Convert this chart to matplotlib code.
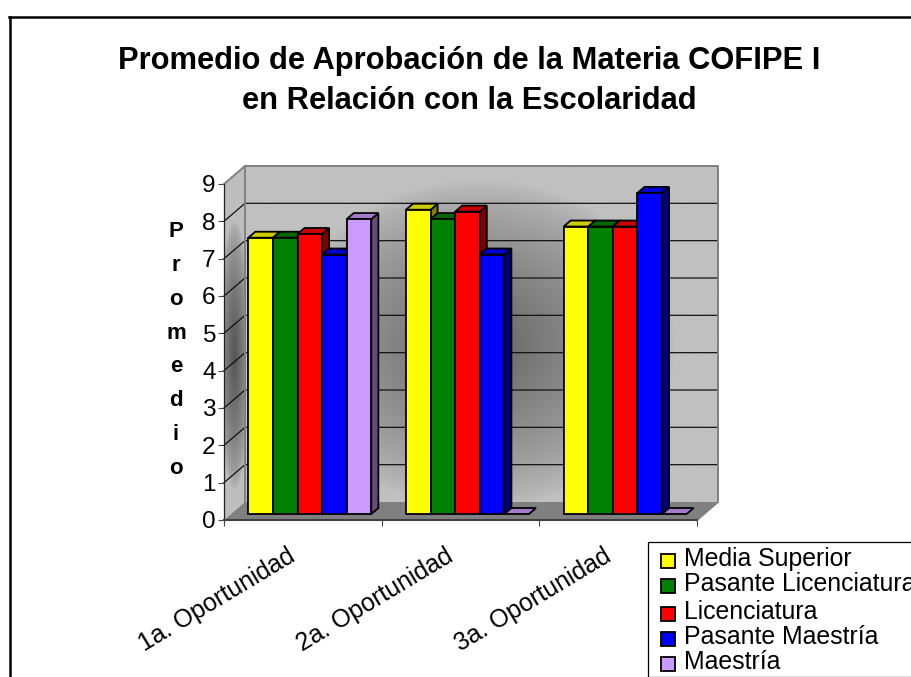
import numpy as np
import matplotlib
matplotlib.use('Agg')
import matplotlib.pyplot as plt
from matplotlib.patches import Polygon, Rectangle
from matplotlib.lines import Line2D

title = 'Promedio de Aprobación de la Materia COFIPE I\nen Relación con la Escolaridad'
categories = ['1a. Oportunidad', '2a. Oportunidad', '3a. Oportunidad']
series_names = ['Media Superior', 'Pasante Licenciatura', 'Licenciatura', 'Pasante Maestría', 'Maestría']
media_superior = [7.4, 8.15, 7.7]
pasante_lic = [7.4, 7.9, 7.7]
licenciatura = [7.5, 8.1, 7.7]
pasante_maestria = [6.95, 6.95, 8.6]
maestria = [7.9, 0, 0]
y_ticks = list(range(10))

series_values = [media_superior, pasante_lic, licenciatura, pasante_maestria, maestria]
front_colors = ['#ffff00', '#008000', '#ff0000', '#0000ff', '#cc99ff']
top_colors = ['#cccc00', '#006600', '#cc0000', '#0000cc', '#a37acc']
side_colors = ['#808000', '#004000', '#800000', '#000080', '#664d80']

W, H = 912, 677
plt.rcParams['font.family'] = ['Liberation Sans', 'DejaVu Sans']

fig = plt.figure(figsize=(W / 100, H / 100), dpi=100, facecolor='white')


def fx(px):
    return px / W


def fy(py):
    return 1 - py / H


# front plane of the plot box
ax = fig.add_axes([fx(224), fy(520), (697 - 224) / W, (520 - 184) / H])
ax.set_xlim(0, 3)
ax.set_ylim(0, 9)
ax.patch.set_visible(False)

# depth of the box in data units
dx = 21 / (473 / 3)
dy = 18 / (336 / 9)

# back wall
gx, gy = np.meshgrid(np.linspace(dx, 3 + dx, 300), np.linspace(dy, 9 + dy, 300))
t = np.sqrt(((gx - 1.62) / 1.25) ** 2 + ((gy - 4.7) / 4.4) ** 2)
wall = 192 - 92 * np.clip(1 - t, 0, 1) ** 0.75
ax.imshow(wall, extent=[dx, 3 + dx, dy, 9 + dy], origin='lower', cmap='gray', vmin=0, vmax=255,
          aspect='auto', clip_on=False, zorder=1, interpolation='bilinear')

# left wall
gx, gy = np.meshgrid(np.linspace(0, dx, 60), np.linspace(0, 9 + dy, 300))
t = np.sqrt(((gx - dx * 0.5) / (dx * 0.75)) ** 2 + ((gy - 4.4) / 3.6) ** 2)
side = 190 - 105 * np.clip(1 - t, 0, 1) ** 0.6
left_shape = Polygon([(0, 0), (dx, dy), (dx, 9 + dy), (0, 9)], closed=True, transform=ax.transData)
im = ax.imshow(side, extent=[0, dx, 0, 9 + dy], origin='lower', cmap='gray', vmin=0, vmax=255,
               aspect='auto', zorder=1, interpolation='bilinear')
im.set_clip_box(fig.bbox)
im.set_clip_path(left_shape)

ax.set_xlim(0, 3)
ax.set_ylim(0, 9)

# floor
ax.add_patch(Polygon([(0, 0), (3, 0), (3 + dx, dy), (dx, dy)], closed=True, facecolor='#808080',
                     edgecolor='none', clip_on=False, zorder=2))

# grid lines, back wall and left wall
for v in y_ticks[1:-1]:
    ax.plot([0, dx, 3 + dx], [v, v + dy, v + dy], color='#111111', lw=0.9, clip_on=False, zorder=2)

# box outline
ax.plot([0, dx, 3 + dx, 3 + dx, 3], [9, 9 + dy, 9 + dy, dy, 0], color='#808080', lw=1.4, clip_on=False, zorder=2)
ax.plot([dx, dx], [dy, 9 + dy], color='#808080', lw=1.4, clip_on=False, zorder=2)

# bars, one group at a time so later bars cover the sides of earlier ones
bar_w = 123 / 5 / (473 / 3)
gap = (1 - 5 * bar_w) / 2
for g in range(len(categories)):
    for s, vals in enumerate(series_values):
        v = vals[g]
        x0 = g + gap + s * bar_w + dx / 3
        x1 = x0 + bar_w
        y0 = dy / 3
        y1 = y0 + v
        ox = dx / 3
        oy = dy / 3
        kw = dict(edgecolor='black', lw=1.3, joinstyle='miter', clip_on=False, zorder=3 + g + s * 0.1)
        if v > 0:
            ax.add_patch(Polygon([(x1, y0), (x1 + ox, y0 + oy), (x1 + ox, y1 + oy), (x1, y1)],
                                 closed=True, facecolor=side_colors[s], **kw))
        ax.add_patch(Polygon([(x0, y1), (x1, y1), (x1 + ox, y1 + oy), (x0 + ox, y1 + oy)],
                             closed=True, facecolor=top_colors[s], **kw))
        if v > 0:
            ax.add_patch(Rectangle((x0, y0), bar_w, v, facecolor=front_colors[s], **kw))

# axes
for name in ['top', 'right']:
    ax.spines[name].set_visible(False)
ax.spines['left'].set_color('#222222')
ax.spines['left'].set_linewidth(0.9)
ax.spines['bottom'].set_color('#404040')
ax.spines['bottom'].set_linewidth(1.5)
ax.spines['left'].set_zorder(2.5)
ax.spines['bottom'].set_zorder(2.5)

ax.set_yticks(y_ticks)
ax.set_yticklabels([str(v) for v in y_ticks], fontsize=17.6)
ax.tick_params(axis='y', length=4, width=0.8, color='#444444', pad=2)
ax.set_xticks([0, 1, 2, 3])
ax.set_xticklabels([])
ax.tick_params(axis='x', which='major', length=4, width=0.8, color='#444444')
ax.set_xticks([0.4, 1.4, 2.4], minor=True)
ax.set_xticklabels(categories, minor=True, rotation=31, ha='right', va='top', rotation_mode='anchor', fontsize=17.9)
ax.tick_params(axis='x', which='minor', length=0, pad=17)

fig.text(fx(176), fy(350), '\n'.join('Promedio'), ha='center', va='center', ma='center', fontsize=16,
         fontweight='bold', linespacing=1.795)

fig.text(fx(469), fy(81), title, ha='center', va='center', ma='center', fontsize=22.2, fontweight='bold', linespacing=1.44)

# legend box runs off the right and bottom edges of the picture
fig.add_artist(Rectangle((fx(648), 0), 1, fy(542), transform=fig.transFigure, facecolor='white', edgecolor='black', lw=0.9))
legend_y = [561, 586, 614, 639, 664]
for name, color, ly in zip(series_names, front_colors, legend_y):
    fig.add_artist(Rectangle((fx(661), fy(ly + 7)), 14 / W, 14 / H, transform=fig.transFigure,
                             facecolor=color, edgecolor='black', lw=1.3))
    fig.text(fx(684), fy(ly - 2), name, ha='left', va='center', fontsize=17.9)

# outer frame, cut by the picture on the right and bottom
fig.add_artist(Line2D([fx(10), fx(10)], [0, fy(16.5)], color='black', lw=1.8))
fig.add_artist(Line2D([fx(9), 1], [fy(16.5), fy(16.5)], color='black', lw=1.8))

fig.savefig('out.png', dpi=100)
